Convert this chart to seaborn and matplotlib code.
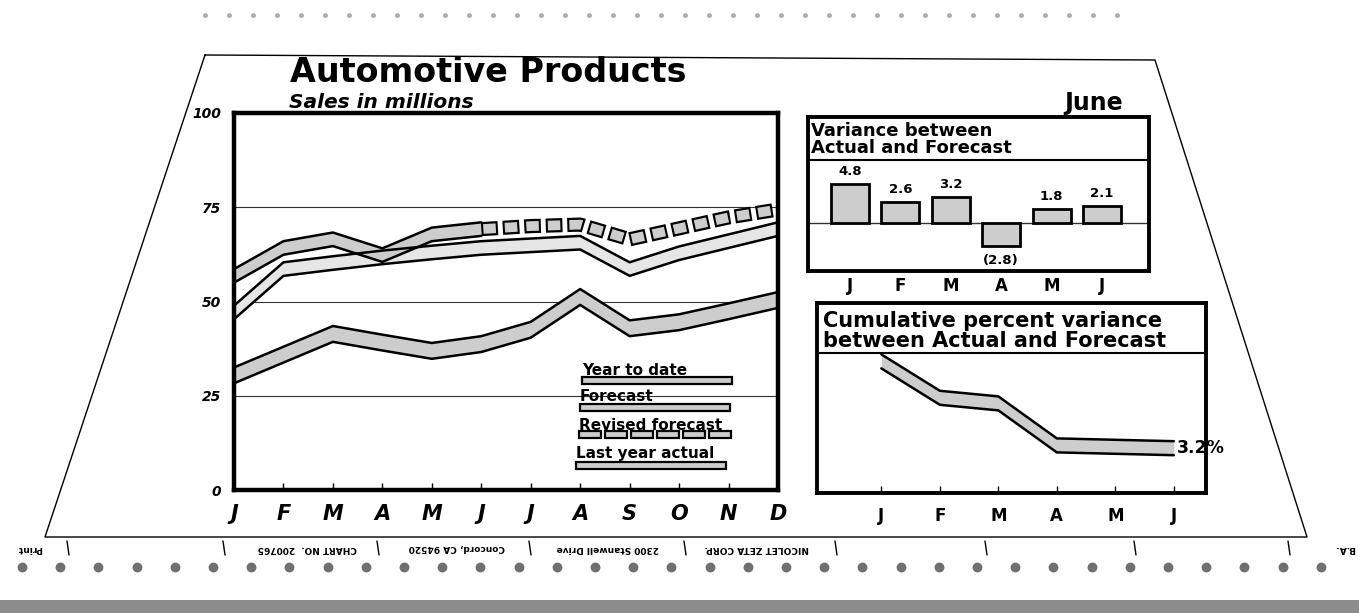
import matplotlib
matplotlib.use("Agg")
import matplotlib.pyplot as plt
import matplotlib.patches as mpatches
import numpy as np
import seaborn as sns

sns.set_theme(style="white")
plt.rcParams["font.family"] = ["DejaVu Sans"]
plt.rcParams["text.color"] = "black"
plt.rcParams["xtick.color"] = "black"
plt.rcParams["ytick.color"] = "black"
plt.rcParams["axes.labelcolor"] = "black"
plt.rcParams["lines.scale_dashes"] = False

# ---- data ----
months = ["J", "F", "M", "A", "M", "J", "J", "A", "S", "O", "N", "D"]
last_year_actual = [28.3, 33.8, 39.3, 37.0, 34.8, 36.6, 40.4, 49.1, 40.8, 42.4, 45.3, 48.3]
forecast = [45.3, 56.8, 58.4, 59.9, 61.2, 62.4, 63.1, 63.8, 56.8, 61.0, 64.2, 67.4]
year_to_date = [55.0, 62.4, 64.7, 60.5, 66.0, 67.4]               # Jan - Jun
revised_forecast = [67.4, 68.2, 68.6, 64.7, 67.6, 70.5, 72.6]     # Jun - Dec

var_months = ["Jan", "Feb", "Mar", "Apr", "May", "Jun"]
var_labels = ["J", "F", "M", "A", "M", "J"]
variance = [4.8, 2.6, 3.2, -2.8, 1.8, 2.1]
cum_pct_variance = [9.4, 6.8, 6.4, 3.4, 3.3, 3.2]

GRAY = "#cdcdcd"
W, H = 1359, 613
fig = plt.figure(figsize=(W / 100, H / 100), dpi=100)

# background layer in pixel coordinates: paper sheet, holes, footer, headings
bg = fig.add_axes([0, 0, 1, 1])
bg.set_xlim(0, W)
bg.set_ylim(H, 0)
bg.axis("off")
bg.plot([205, 1155, 1307, 45, 205], [55, 60, 537, 537, 55], color="black", lw=1.0)
bg.add_patch(mpatches.Rectangle((0, 600), W, 13, color="#8c8c8c", lw=0))
holes_bottom = np.arange(22, 1345, 38.2)
bg.scatter(holes_bottom, np.full(len(holes_bottom), 567), s=50, color="#707070", lw=0)
holes_top = np.arange(205, 1135, 24)
bg.scatter(holes_top, np.full(len(holes_top), 15), s=12, color="#aaaaaa", lw=0)
footer = [(30, "Print"), (307, "CHART NO.  200765"), (457, "Concord, CA 94520"),
          (608, "2300 Stanwell Drive"), (757, "NICOLET ZETA CORP."), (1345, "B.A.")]
for fx, ft in footer:
    bg.text(fx, 548, ft, rotation=180, ha="center", va="center", fontsize=6.5, weight="bold")
for bx in [67, 223, 377, 529, 684, 835, 985, 1134, 1288]:
    bg.plot([bx, bx + 2], [541, 555], color="black", lw=1.0)

bg.text(290, 82, "Automotive Products", fontsize=24, weight="bold", va="baseline")
bg.text(289, 108, "Sales in millions", fontsize=14.5, weight="bold", style="italic", va="baseline")
bg.text(1123, 110, "June", fontsize=17, weight="bold", ha="right", va="baseline")
bg.text(811, 136, "Variance between", fontsize=13, weight="bold", va="baseline")
bg.text(811, 153, "Actual and Forecast", fontsize=13, weight="bold", va="baseline")
bg.text(823, 327, "Cumulative percent variance", fontsize=15, weight="bold", va="baseline")
bg.text(823, 347, "between Actual and Forecast", fontsize=15, weight="bold", va="baseline")

# ---- main line chart ----
ax = fig.add_axes([234 / W, 1 - 490 / H, 544 / W, 377 / H])
ax.set_facecolor("none")
x_all = np.arange(12)
th = 3.6


def ribbon(axis, x, vals, fill, thick):
    vals = np.asarray(vals)
    axis.fill_between(x, vals, vals + thick, color=fill, lw=0, zorder=2)
    sns.lineplot(x=x, y=vals, color="black", lw=1.8, ax=axis, zorder=3)
    sns.lineplot(x=x, y=vals + thick, color="black", lw=1.8, ax=axis, zorder=3)


ribbon(ax, x_all, last_year_actual, GRAY, 4.2)
ribbon(ax, x_all, forecast, "#e6e6e6", th)
ribbon(ax, x_all[:6], year_to_date, GRAY, th)

# revised forecast: ribbon of outlined squares
x_rev = x_all[5:]
rev_c = np.asarray(revised_forecast) + th / 2
ax.plot(x_rev, rev_c, color="black", lw=10.2, linestyle=(0, (12, 3.5)),
        dash_capstyle="butt", zorder=4)
ax.plot(x_rev, rev_c, color=GRAY, lw=7.0, linestyle=(14.0, (9, 6.5)),
        dash_capstyle="butt", zorder=5)

ax.set_xlim(0, 11)
ax.set_ylim(0, 100)
ax.set_yticks([0, 25, 50, 75, 100])
ax.set_yticklabels(["0", "25", "50", "75", "100"], fontsize=10, weight="bold", style="italic")
ax.set_xticks(x_all)
ax.set_xticklabels(months, fontsize=15, weight="bold", style="italic")
ax.tick_params(axis="x", direction="in", length=5, width=1, pad=10, bottom=True)
ax.tick_params(axis="y", length=0, pad=9)
ax.grid(axis="y", color="#333333", lw=0.8)
ax.grid(axis="x", visible=False)
ax.set_xlabel("")
ax.set_ylabel("")
for sp in ax.spines.values():
    sp.set_linewidth(3.2)
    sp.set_color("black")

# legend drawn inside the plot area
leg_items = ["Year to date", "Forecast", "Revised forecast", "Last year actual"]
leg_x = [0.640, 0.636, 0.634, 0.629]
leg_text_y = [0.318, 0.247, 0.172, 0.098]
leg_band_y = [0.2905, 0.219, 0.147, 0.066]
for name, lx, ty, by in zip(leg_items, leg_x, leg_text_y, leg_band_y):
    ax.text(lx, ty, name, transform=ax.transAxes, fontsize=11, weight="bold", va="center")
    if name == "Revised forecast":
        for k in range(6):
            ax.add_patch(mpatches.Rectangle((lx + k * 0.0478, by - 0.0093), 0.0404, 0.0186,
                                            transform=ax.transAxes, facecolor=GRAY,
                                            edgecolor="black", lw=1.6, zorder=6))
    else:
        ax.add_patch(mpatches.Rectangle((lx, by - 0.0093), 0.276, 0.0186,
                                        transform=ax.transAxes, facecolor=GRAY,
                                        edgecolor="black", lw=1.6, zorder=6))

# ---- variance bar chart ----
ax2 = fig.add_axes([808 / W, 1 - 271 / H, 341 / W, 154 / H])
ax2.set_facecolor("none")
sns.barplot(x=var_months, y=variance, order=var_months, color=GRAY, saturation=1,
            edgecolor="black", linewidth=2, width=0.75, ax=ax2, zorder=3)
ax2.set_xlim(-0.83, 5.93)
ax2.set_ylim(-5.82, 12.96)
ax2.axhline(0, color="#333333", lw=1.0, zorder=2)
ax2.axhline(7.72, color="black", lw=1.5)
for i, v in enumerate(variance):
    if v >= 0:
        ax2.text(i, v + 0.7, f"{v:.1f}", ha="center", va="bottom", fontsize=9.5, weight="bold")
    else:
        ax2.text(i, v - 0.9, f"({abs(v):.1f})", ha="center", va="top", fontsize=9.5, weight="bold")
ax2.set_xticks(range(6))
ax2.set_xticklabels(var_labels, fontsize=12, weight="bold")
ax2.tick_params(axis="x", length=0, pad=4)
ax2.set_yticks([])
ax2.set_xlabel("")
ax2.set_ylabel("")
for sp in ax2.spines.values():
    sp.set_linewidth(2.8)
    sp.set_color("black")

# ---- cumulative percent variance ----
ax3 = fig.add_axes([817 / W, 1 - 493 / H, 389 / W, 190 / H])
ax3.set_facecolor("none")
x6 = np.arange(6)
cum = np.asarray(cum_pct_variance)
ax3.fill_between(x6, cum - 0.5, cum + 0.5, color=GRAY, lw=0, zorder=2)
sns.lineplot(x=x6, y=cum - 0.5, color="black", lw=1.8, ax=ax3, zorder=3)
sns.lineplot(x=x6, y=cum + 0.5, color="black", lw=1.8, ax=ax3, zorder=3)
ax3.text(5.05, cum[-1], f"{cum[-1]:.1f}%", ha="left", va="center", fontsize=12.5, weight="bold")
ax3.set_xlim(-1.1, 5.55)
ax3.set_ylim(0, 13.57)
ax3.axhline(10.0, color="black", lw=1.5)
ax3.set_xticks(x6)
ax3.set_xticklabels(var_labels, fontsize=12, weight="bold")
ax3.tick_params(axis="x", direction="in", length=5, width=1, pad=10, bottom=True)
ax3.set_yticks([])
ax3.set_xlabel("")
ax3.set_ylabel("")
for sp in ax3.spines.values():
    sp.set_linewidth(2.8)
    sp.set_color("black")

fig.savefig("out.png", dpi=100)
